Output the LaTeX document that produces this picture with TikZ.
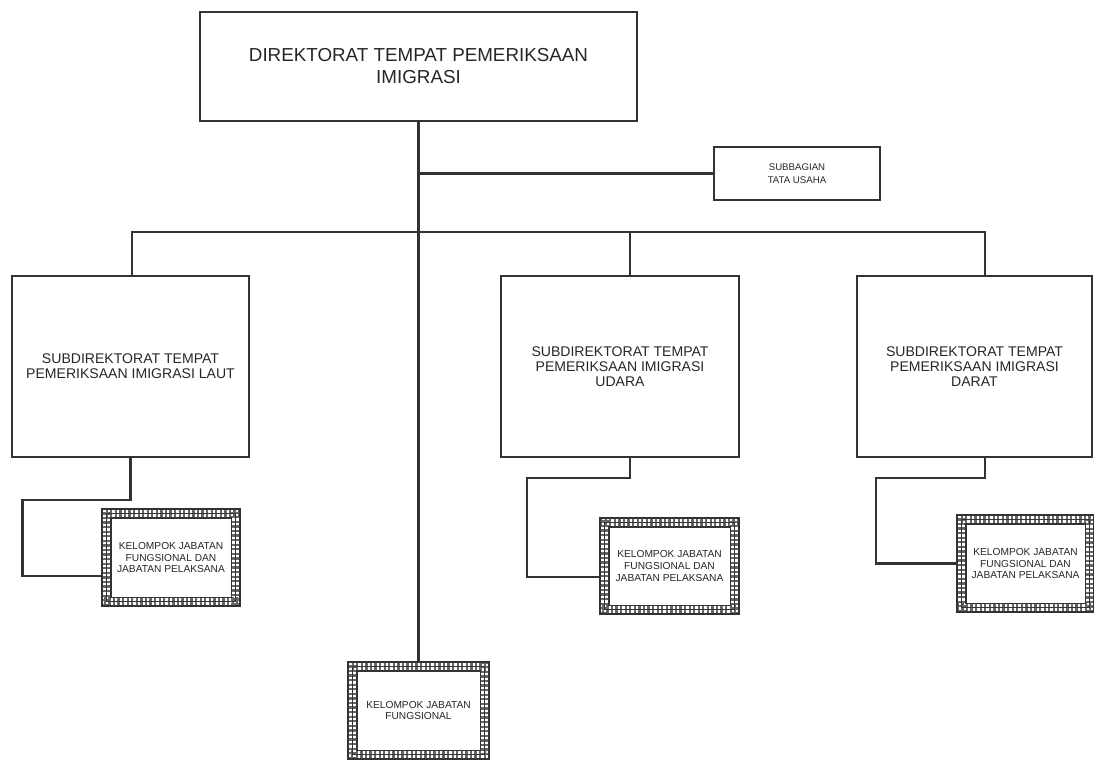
\documentclass[tikz,border=0pt]{standalone}
\usepackage{fontspec}
\setmainfont{Liberation Sans}
\usepackage{tikz}
\usetikzlibrary{calc}

\begin{document}
\begin{tikzpicture}[x=0.02cm,y=-0.02cm,
	kotak/.style={rectangle,draw=black!80,line width=1.2pt,inner sep=0pt,outer sep=0pt,
		align=center,text=black!85},
	sub/.style={kotak,minimum height=3.62cm,font=\fontsize{8}{8.5}\selectfont},
	kelompok/.style={rectangle,draw=black!80,line width=0.9pt,inner sep=0pt,outer sep=0pt,
		align=center,text=black!85,minimum width=2.76cm,minimum height=1.94cm,
		font=\fontsize{5.8}{6.8}\selectfont,
		path picture={
			\draw[black!60,line width=10pt,dash pattern=on 1.3pt off 1.3pt]
				(path picture bounding box.south west) rectangle (path picture bounding box.north east);
			\draw[black!80,line width=0.4pt]
				([shift={(2.6pt,2.6pt)}]path picture bounding box.south west) rectangle
				([shift={(-2.6pt,-2.6pt)}]path picture bounding box.north east);
			\draw[black!80,line width=0.8pt]
				([shift={(5pt,5pt)}]path picture bounding box.south west) rectangle
				([shift={(-5pt,-5pt)}]path picture bounding box.north east);}},
	garis/.style={black!80,line width=1.3pt}]
	\useasboundingbox (0,0) rectangle (1094,760);
	\node[kotak,minimum width=8.74cm,minimum height=2.18cm,
	font=\fontsize{10.7}{12.5}\selectfont] (1) at(418.5,66.5){DIREKTORAT TEMPAT PEMERIKSAAN\\IMIGRASI};
	\node[kotak,minimum width=3.32cm,minimum height=1.06cm,
	font=\fontsize{5.5}{7.5}\selectfont] (2) at(797,173.5){SUBBAGIAN\\TATA USAHA};
	\node[sub,minimum width=4.74cm] (3) at(130.5,366.5){SUBDIREKTORAT TEMPAT\\PEMERIKSAAN IMIGRASI LAUT};
	\node[sub,minimum width=4.76cm] (4) at(620,366.5){SUBDIREKTORAT TEMPAT\\PEMERIKSAAN IMIGRASI\\UDARA};
	\node[sub,minimum width=4.70cm] (5) at(974.5,366.5){SUBDIREKTORAT TEMPAT\\PEMERIKSAAN IMIGRASI\\DARAT};
	\node[kelompok] (6) at(171,557.5){KELOMPOK JABATAN\\FUNGSIONAL DAN\\JABATAN PELAKSANA};
	\node[kelompok,minimum width=2.78cm,minimum height=1.92cm] (7) at(669.5,566){KELOMPOK JABATAN\\FUNGSIONAL DAN\\JABATAN PELAKSANA};
	\node[kelompok,minimum width=2.74cm,minimum height=1.94cm] (8) at(1025.5,563.5){KELOMPOK JABATAN\\FUNGSIONAL DAN\\JABATAN PELAKSANA};
	\node[kelompok,minimum width=2.82cm] (9) at(418.5,710.5){KELOMPOK JABATAN\\FUNGSIONAL};
	\coordinate (bus) at(418.5,232);
	\coordinate (t3) at($(3.north)+(1.5,0)$);
	\coordinate (t4) at($(4.north)+(10,0)$);
	\coordinate (t5) at($(5.north)+(10.5,0)$);
	\draw[garis] (1) --(9);
	\draw[garis] (1.south |- 2.west) --(2);
	\draw[garis] (t3) |-(bus) -|(t5);
	\draw[garis] (t4) --(t4 |- bus);
	\draw[garis] (3.south) --++(0,43) --++(-108,0) |-($(6.west)+(0,18.5)$);
	\draw[garis] ($(4.south)+(10,0)$) --++(0,21) --++(-103,0) |-($(7.west)+(0,11)$);
	\draw[garis] ($(5.south)+(10.5,0)$) --++(0,21) --++(-109,0) |-(8);
\end{tikzpicture}
\end{document}
